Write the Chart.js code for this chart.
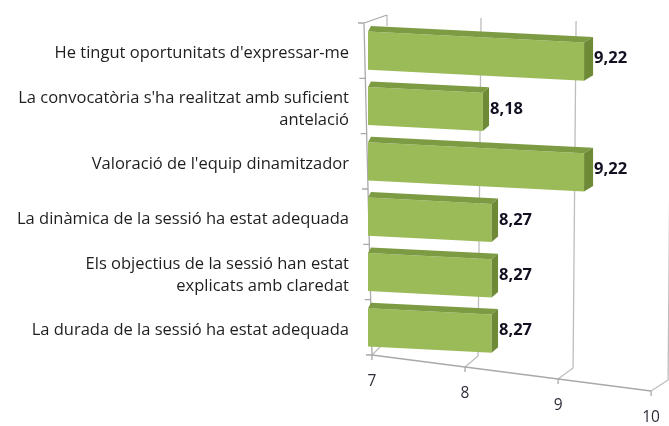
<!DOCTYPE html>
<html>
<head>
<meta charset="utf-8">
<script src="https://cdn.jsdelivr.net/npm/chart.js@4/dist/chart.umd.min.js"></script>
<style>
  html, body { margin: 0; padding: 0; background: #ffffff; }
  canvas { display: block; }
</style>
</head>
<body>
<canvas id="c" width="669" height="426"></canvas>
<script>
// ---- data ----
const categories = [
  "He tingut oportunitats d'expressar-me",
  ["La convocatòria s'ha realitzat amb suficient", "antelació"],
  "Valoració de l'equip dinamitzador",
  "La dinàmica de la sessió ha estat adequada",
  ["Els objectius de la sessió han estat", "explicats amb claredat"],
  "La durada de la sessió ha estat adequada"
];
const scores = [9.22, 8.18, 9.22, 8.27, 8.27, 8.27];
const valueLabels = ["9,22", "8,18", "9,22", "8,27", "8,27", "8,27"];
const xTicks = [7, 8, 9, 10];
const axisMin = 7;
const axisMax = 10;

// ---- style ----
const FONT = "'Open Sans', Lato, 'Liberation Sans', sans-serif";
const FRONT = '#9BBB59';
const TOPC = '#7C9B43';
const SIDE = '#6E8A37';
const GRID = '#BDBDBD';
const AXIS = '#A9A9A9';
const TEXT = '#1E1E1E';
const K = 0.051; // slope of the bars (perspective)

function shear(chart, x, y) {
  return [x, y + K * (x - chart.chartArea.left)];
}

const perspective = {
  id: 'perspective',
  beforeDatasetsDraw(chart) {
    const ctx = chart.ctx;
    const xs = chart.scales.x;
    const ys = chart.scales.y;
    const area = chart.chartArea;
    const frontPt = v => [xs.getPixelForValue(v) + 4 - 4.3 * (v - axisMin), area.bottom + 12 * (v - axisMin)];
    const backPt = v => { const f = frontPt(v); return [f[0] + 11 + 2 * (v - axisMin), f[1] - 11]; };
    ctx.save();
    ctx.lineWidth = 1.3;
    ctx.strokeStyle = GRID;
    xTicks.forEach(v => {
      const f = frontPt(v), b = backPt(v);
      ctx.beginPath();
      if (v !== axisMin) {
        ctx.moveTo(b[0] + 3, area.top - 8 + 3 * (v - axisMin));
        ctx.lineTo(b[0], b[1]);
      } else {
        ctx.moveTo(b[0] + 4, area.top - 8);
        ctx.lineTo(b[0] + 4, area.top + 3);
        ctx.moveTo(b[0], b[1]);
      }
      ctx.lineTo(f[0], f[1]);
      ctx.stroke();
    });
    const f0 = frontPt(axisMin), f1 = frontPt(axisMax);
    ctx.strokeStyle = AXIS;
    ctx.beginPath();
    ctx.moveTo(f0[0], f0[1]);
    ctx.lineTo(f1[0], f1[1]);
    xTicks.forEach(v => {
      const f = frontPt(v);
      ctx.moveTo(f[0], f[1]);
      ctx.lineTo(f[0], f[1] + 5);
    });
    ctx.stroke();
    const axTop = [area.left - 4, area.top], axBot = [f0[0], f0[1]];
    const axX = y => axTop[0] + (axBot[0] - axTop[0]) * (y - axTop[1]) / (axBot[1] - axTop[1]);
    ctx.beginPath();
    ctx.moveTo(axTop[0], axTop[1]);
    ctx.lineTo(axBot[0], axBot[1]);
    const n = categories.length;
    for (let i = 0; i <= n; i++) {
      const y = ys.top + (ys.bottom - ys.top) * i / n;
      ctx.moveTo(axX(y), y);
      ctx.lineTo(axX(y) - 6, y);
    }
    const b0 = backPt(axisMin);
    ctx.moveTo(axTop[0], axTop[1]);
    ctx.lineTo(b0[0] + 4, area.top - 8);
    ctx.stroke();
    ctx.fillStyle = '#2E2E3A';
    ctx.font = "15.5px " + FONT;
    ctx.textAlign = 'center';
    ctx.textBaseline = 'middle';
    xTicks.forEach(v => {
      const f = frontPt(v);
      ctx.fillText(String(v), f[0], f[1] + 27);
    });
    ctx.restore();
    ctx.save();
    ctx.transform(1, K, 0, 1, 0, -K * area.left);
  },
  afterDatasetsDraw(chart) {
    const ctx = chart.ctx;
    ctx.restore();
    const area = chart.chartArea;
    const meta = chart.getDatasetMeta(0);
    const depth = x => [3 + 6 * (x - area.left) / 216, -5.5];
    ctx.save();
    meta.data.forEach((bar, i) => {
      const p = bar.getProps(['x', 'y', 'base', 'height'], true);
      const t = p.y - p.height / 2, b = p.y + p.height / 2;
      const TL = shear(chart, p.base, t), TR = shear(chart, p.x, t), BR = shear(chart, p.x, b);
      const dL = depth(p.base), dR = depth(p.x);
      ctx.fillStyle = TOPC;
      ctx.beginPath();
      ctx.moveTo(TL[0], TL[1]);
      ctx.lineTo(TR[0], TR[1]);
      ctx.lineTo(TR[0] + dR[0], TR[1] + dR[1]);
      ctx.lineTo(TL[0] + dL[0], TL[1] + dL[1]);
      ctx.closePath();
      ctx.fill();
      ctx.fillStyle = SIDE;
      ctx.beginPath();
      ctx.moveTo(TR[0], TR[1]);
      ctx.lineTo(BR[0], BR[1]);
      ctx.lineTo(BR[0] + dR[0], BR[1] + dR[1]);
      ctx.lineTo(TR[0] + dR[0], TR[1] + dR[1]);
      ctx.closePath();
      ctx.fill();
      ctx.fillStyle = '#111122';
      ctx.font = "bold 16.5px " + FONT;
      ctx.textAlign = 'left';
      ctx.textBaseline = 'middle';
      ctx.fillText(valueLabels[i], TR[0] + dR[0] + 1, (TR[1] + BR[1]) / 2 - 3);
    });
    ctx.restore();
  }
};

new Chart(document.getElementById('c'), {
  type: 'bar',
  data: {
    labels: categories,
    datasets: [{
      data: scores,
      base: axisMin,
      backgroundColor: FRONT,
      borderWidth: 0,
      categoryPercentage: 1,
      barPercentage: 0.69
    }]
  },
  options: {
    indexAxis: 'y',
    responsive: false,
    animation: false,
    layout: { padding: { top: 23, right: 9, bottom: 71, left: 0 } },
    plugins: { legend: { display: false }, tooltip: { enabled: false } },
    scales: {
      x: {
        display: false,
        min: axisMin,
        max: axisMax,
        ticks: { stepSize: 1 }
      },
      y: {
        grid: { display: false },
        border: { display: false },
        afterFit(scale) { scale.width = 368; },
        ticks: {
          color: TEXT,
          padding: 11,
          labelOffset: 3,
          font: { family: FONT, size: 16.5, lineHeight: 1.33 }
        }
      }
    }
  },
  plugins: [perspective]
});
</script>
</body>
</html>
